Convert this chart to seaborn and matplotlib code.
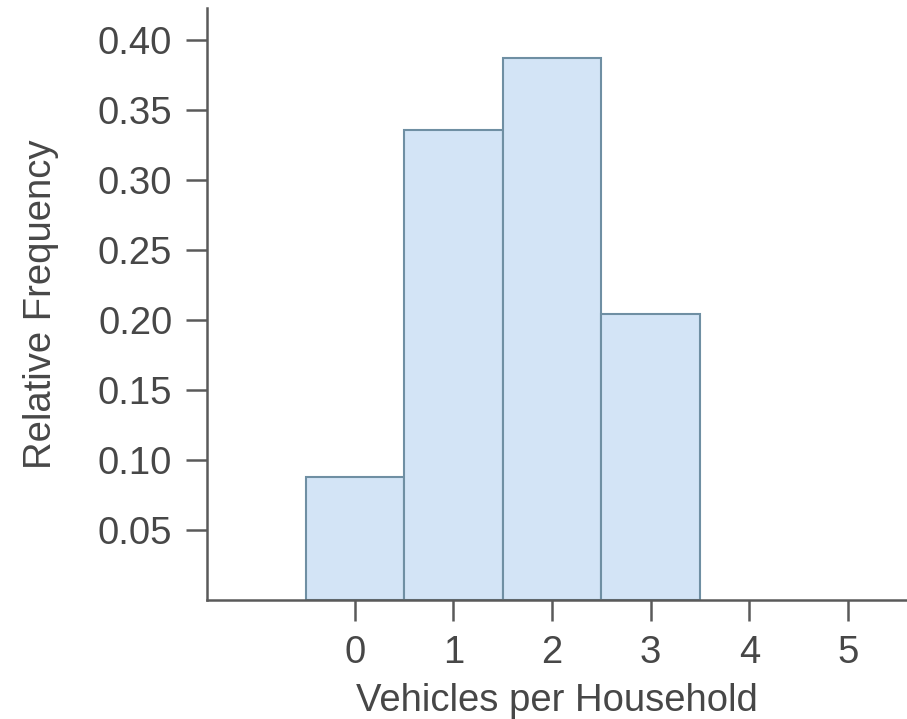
import numpy as np
import pandas as pd
import matplotlib
matplotlib.use("Agg")
import matplotlib.pyplot as plt
import seaborn as sns

# Data
vehicles = [0, 1, 2, 3]
rel_freq = [0.088, 0.336, 0.387, 0.204]
x_ticks = [0, 1, 2, 3, 4, 5]
y_ticks = [0.05, 0.10, 0.15, 0.20, 0.25, 0.30, 0.35, 0.40]

sns.set_style("white")
plt.rcParams["font.family"] = ["Liberation Sans", "DejaVu Sans"]

GRAY = "#5a5a5a"
TEXT = "#474747"

df = pd.DataFrame({"vehicles": vehicles, "freq": rel_freq})

fig = plt.figure(figsize=(9.07, 7.19), dpi=100)
ax = fig.add_axes([207 / 907, 1 - 600 / 719, 1 - 207 / 907, 592 / 719])

sns.histplot(data=df, x="vehicles", weights="freq", discrete=True,
             stat="count", color="#d3e4f6", edgecolor="#6f8fa3",
             linewidth=1.5, alpha=1, ax=ax)

ax.set_xlim(-1.5, 5.6)
ax.set_ylim(0, 0.423)
ax.set_xticks(x_ticks)
ax.set_yticks(y_ticks)
ax.set_yticklabels([f"{v:.2f}" for v in y_ticks])

for side in ["top", "right"]:
    ax.spines[side].set_visible(False)
for side in ["left", "bottom"]:
    ax.spines[side].set_color(GRAY)
    ax.spines[side].set_linewidth(1.8)

ax.tick_params(axis="both", direction="out", length=15, width=1.8,
               color=GRAY, labelcolor=TEXT, labelsize=27.5,
               bottom=True, left=True)
ax.tick_params(axis="y", pad=10)
ax.tick_params(axis="x", pad=10)
ax.grid(False)

ax.set_xlabel("Vehicles per Household", fontsize=27.5, color=TEXT, labelpad=9)
ax.set_ylabel("Relative Frequency", fontsize=27.5, color=TEXT, labelpad=28)

plt.savefig("out.png", dpi=100)
plt.close()
